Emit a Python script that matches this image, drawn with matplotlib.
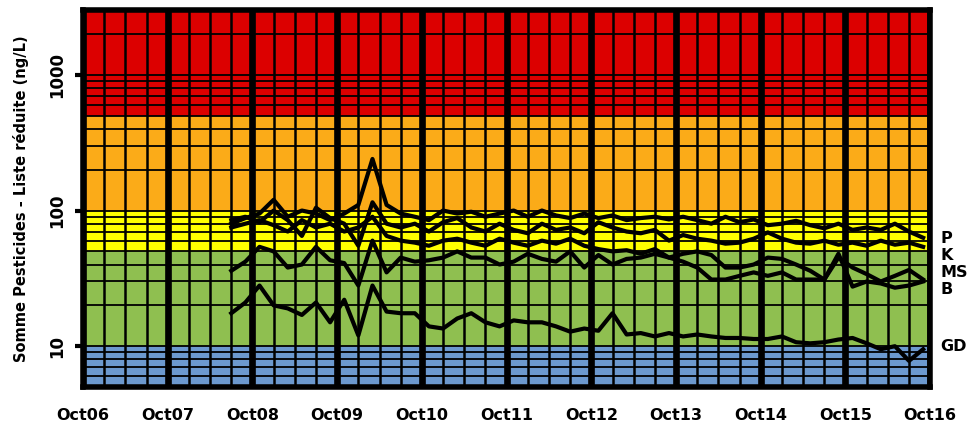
import numpy as np
import matplotlib
matplotlib.use('Agg')
import matplotlib.pyplot as plt
import matplotlib.transforms as mtransforms

# dates de prélèvement (années décimales, pas de 2 mois)
t = [2008.5 + i / 6 for i in range(50)]

P = [80, 88, 95, 120, 90, 100, 95, 85, 95, 110,
     240, 110, 95, 90, 85, 100, 95, 98, 90, 95,
     100, 90, 100, 92, 88, 95, 88, 92, 85, 88,
     90, 86, 90, 85, 80, 90, 82, 86, 78, 80,
     84, 78, 74, 80, 72, 75, 72, 80, 70, 63]
K = [85, 90, 82, 100, 85, 65, 105, 88, 80, 55,
     115, 80, 75, 80, 70, 82, 88, 75, 70, 80,
     72, 68, 80, 72, 75, 68, 82, 75, 70, 68,
     72, 60, 66, 62, 60, 57, 58, 62, 69, 62,
     58, 57, 60, 56, 58, 55, 60, 56, 58, 54]
MS = [75, 80, 85, 78, 70, 85, 75, 80, 70, 75,
      90, 65, 60, 58, 55, 60, 62, 58, 55, 62,
      58, 55, 60, 57, 62, 55, 52, 50, 51, 48,
      52, 45, 48, 50, 47, 38, 38, 40, 45, 44,
      40, 36, 31, 45, 38, 34, 30, 33, 36.5, 31]
B = [36, 42, 54, 50, 38, 40, 54, 43, 41, 28,
     60, 35, 45, 42, 43, 45, 50, 45, 45, 40,
     42, 48, 44, 42, 50, 38, 47, 40, 44, 45,
     48, 45, 42, 38, 31, 31, 33, 35, 33, 35,
     31, 31, 31, 48, 27.5, 30, 29, 27, 28, 30]
GD = [17.5, 21, 28, 20, 19, 17, 21, 15, 22, 12,
      28, 18, 17.5, 17.5, 14, 13.5, 16, 17.5, 15, 14,
      15.5, 15, 15, 14, 12.8, 13.5, 13, 17.5, 12.2, 12.5,
      11.8, 12.5, 11.8, 12.2, 11.8, 11.5, 11.5, 11.3, 11.3, 11.8,
      10.7, 10.5, 10.7, 11.2, 11.5, 10.5, 9.5, 10, 7.8, 9.5]

series = {'P': P, 'K': K, 'MS': MS, 'B': B, 'GD': GD}
label_y = {'P': 62, 'K': 47, 'MS': 35, 'B': 26, 'GD': 10}

years = list(range(2006, 2017))
year_labels = ['Oct%02d' % (y % 100) for y in years]

# classes de qualité (ng/L)
bands = [(5, 10, '#6c99cf'), (10, 50, '#8fbf50'), (50, 100, '#ffff00'),
         (100, 500, '#fbab18'), (500, 3000, '#dc0000')]

fig = plt.figure(figsize=(9.72, 4.23), dpi=100)
ax = fig.add_axes([0.0854, 0.085, 0.8716, 0.891])

for lo, hi, col in bands:
    ax.axhspan(lo, hi, color=col, zorder=0, linewidth=0)

# grille horizontale (graduations log)
for dec in [1, 10, 100, 1000]:
    for m in range(1, 10):
        v = m * dec
        if 5 < v < 3000:
            ax.axhline(v, color='black', linewidth=1.3, zorder=1)

# grille verticale : trimestres fins, octobres épais
x0 = years[0] + 0.75
for k in range(41):
    xv = x0 + k * 0.25
    lw = 4.8 if k % 4 == 0 else 1.8
    ax.axvline(xv, color='black', linewidth=lw, zorder=1)

for name, vals in series.items():
    ax.plot(t, vals, color='black', linewidth=3, zorder=3, solid_joinstyle='round')

trans = mtransforms.blended_transform_factory(ax.transAxes, ax.transData)
for name, yv in label_y.items():
    ax.text(1.012, yv, name, transform=trans, fontsize=11.5, fontweight='bold',
            ha='left', va='center')

ax.set_yscale('log')
ax.set_ylim(5, 3000)
ax.set_xlim(x0, years[-1] + 0.75)
ax.set_yticks([10, 100, 1000])
ax.set_yticklabels(['10', '100', '1000'], rotation=90, va='center',
                   fontsize=12, fontweight='bold')
ax.yaxis.set_minor_locator(matplotlib.ticker.NullLocator())
ax.tick_params(axis='y', length=6, width=3, pad=6)
ax.set_xticks([y + 0.75 for y in years])
ax.set_xticklabels(year_labels, fontsize=11.5, fontweight='bold')
ax.tick_params(axis='x', length=0, pad=15)
ax.set_ylabel('Somme Pesticides - Liste réduite (ng/L)', fontsize=10.5,
              fontweight='bold', labelpad=14)
for sp in ax.spines.values():
    sp.set_linewidth(4)
    sp.set_zorder(4)

fig.savefig('out.png', dpi=100, facecolor='white')
